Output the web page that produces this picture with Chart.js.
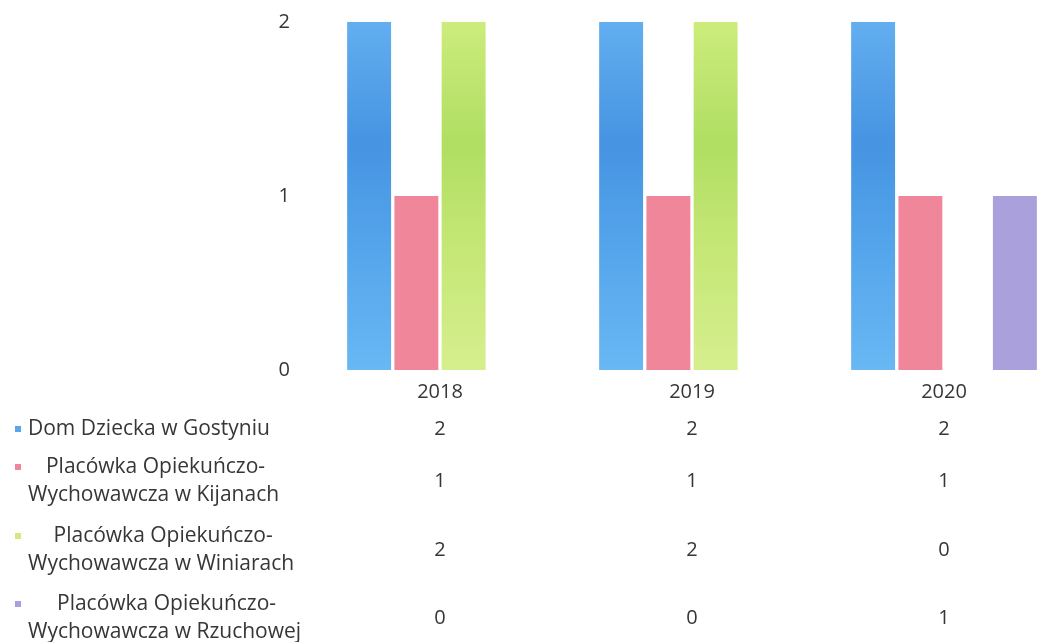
<!DOCTYPE html>
<html>
<head>
<meta charset="utf-8">
<script src="https://cdn.jsdelivr.net/npm/chart.js@4/dist/chart.umd.min.js"></script>
<style>
  html, body { margin: 0; padding: 0; background: #ffffff; }
  #wrap { width: 1037px; height: 642px; overflow: hidden; position: relative; }
  canvas { display: block; }
</style>
</head>
<body>
<div id="wrap"><canvas id="c" width="1080" height="642"></canvas></div>
<script>
// ---- data ----
const categories = ['2018', '2019', '2020'];
const gostyn   = [2, 2, 2];
const kijany   = [1, 1, 1];
const winiary  = [2, 2, 0];
const rzuchowa = [0, 0, 1];
const yTicks = [0, 1, 2];
const seriesLabels = [
  ['Dom Dziecka w Gostyniu'],
  ['Placówka Opiekuńczo-', 'Wychowawcza w Kijanach'],
  ['Placówka Opiekuńczo-', 'Wychowawcza w Winiarach'],
  ['Placówka Opiekuńczo-', 'Wychowawcza w Rzuchowej']
];

const FONT = '"Open Sans", Lato, sans-serif';
const TEXT = '#363636';
const markerColors = ['#5aa6ea', '#ef8699', '#d2ea80', '#aaa0dc'];

function grad(ctx, stops) {
  const ch = ctx.chart;
  const a = ch.chartArea;
  if (!a) return stops[0][1];
  const g = ch.ctx.createLinearGradient(0, a.top, 0, a.bottom);
  stops.forEach(s => g.addColorStop(s[0], s[1]));
  return g;
}

const tablePlugin = {
  id: 'dataTable',
  afterDraw(chart) {
    const ctx = chart.ctx;
    const x = chart.scales.x;
    const rows = [429, 481, 550, 618];
    const lineGap = 28;
    const allData = [gostyn, kijany, winiary, rzuchowa];
    ctx.save();
    ctx.font = '20px ' + FONT;
    ctx.fillStyle = TEXT;
    ctx.textBaseline = 'middle';
    // values
    ctx.textAlign = 'center';
    allData.forEach((arr, r) => {
      arr.forEach((v, i) => {
        ctx.fillText(String(v), x.getPixelForValue(i), rows[r]);
      });
    });
    // legend labels
    ctx.font = '21px ' + FONT;
    seriesLabels.forEach((lines, r) => {
      if (lines.length === 1) {
        const y = rows[r];
        ctx.fillStyle = markerColors[r];
        ctx.fillRect(15, y - 3, 6, 6);
        ctx.fillStyle = TEXT;
        ctx.textAlign = 'left';
        ctx.fillText(lines[0], 28, y);
      } else {
        const y1 = rows[r] - lineGap / 2;
        const y2 = rows[r] + lineGap / 2;
        ctx.fillStyle = markerColors[r];
        ctx.fillRect(15, y1 - 3, 6, 6);
        ctx.fillStyle = TEXT;
        ctx.textAlign = 'left';
        const w2 = ctx.measureText(lines[1]).width;
        ctx.fillText(lines[1], 28, y2);
        const center = 28 + w2 / 2 + 2;
        ctx.textAlign = 'center';
        ctx.fillText(lines[0], center, y1);
      }
    });
    ctx.restore();
  }
};

new Chart(document.getElementById('c'), {
  type: 'bar',
  data: {
    labels: categories,
    datasets: [
      { label: seriesLabels[0].join(' '), data: gostyn,
        backgroundColor: c => grad(c, [[0, '#62aef0'], [0.35, '#4694e2'], [0.6, '#52a2ea'], [1, '#68b8f4']]) },
      { label: seriesLabels[1].join(' '), data: kijany, backgroundColor: '#ef8699' },
      { label: seriesLabels[2].join(' '), data: winiary,
        backgroundColor: c => grad(c, [[0, '#cdec7c'], [0.35, '#afde62'], [0.6, '#c2e672'], [1, '#d6ef8e']]) },
      { label: seriesLabels[3].join(' '), data: rzuchowa, backgroundColor: '#aaa0dc' }
    ]
  },
  options: {
    responsive: false,
    animation: false,
    devicePixelRatio: 1,
    layout: { padding: { top: 22, right: 10, left: 0, bottom: 0 } },
    categoryPercentage: 0.75,
    barPercentage: 0.93,
    plugins: { legend: { display: false }, tooltip: { enabled: false } },
    scales: {
      x: {
        grid: { display: false, drawTicks: false },
        border: { display: false },
        ticks: { color: TEXT, font: { family: FONT, size: 20 }, padding: 10 },
        afterFit(s) { s.height = 272; s.paddingLeft = 0; s.paddingRight = 0; }
      },
      y: {
        min: 0, max: 2,
        grid: { display: false, drawTicks: false },
        border: { display: false },
        afterBuildTicks(s) { s.ticks = yTicks.map(v => ({ value: v })); },
        ticks: { color: TEXT, font: { family: FONT, size: 20 }, padding: 24 },
        afterFit(s) { s.width = 314; s.paddingTop = 0; s.paddingBottom = 0; }
      }
    }
  },
  plugins: [tablePlugin]
});
</script>
</body>
</html>
